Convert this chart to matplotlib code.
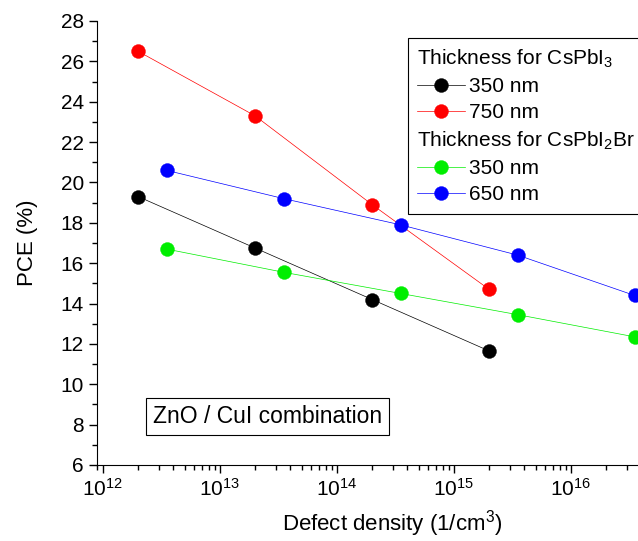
import matplotlib
matplotlib.use('Agg')
import matplotlib.pyplot as plt
from matplotlib.lines import Line2D
from matplotlib.ticker import LogLocator, MultipleLocator, FixedLocator

plt.rcParams['font.family'] = ['Liberation Sans', 'DejaVu Sans']
plt.rcParams['mathtext.fontset'] = 'custom'
plt.rcParams['mathtext.rm'] = 'Liberation Sans'
plt.rcParams['mathtext.it'] = 'Liberation Sans'

# CsPbI3 series
x_pbi3 = [2e12, 2e13, 2e14, 2e15]
pce_pbi3_350 = [19.3, 16.75, 14.2, 11.65]
pce_pbi3_750 = [26.5, 23.3, 18.9, 14.7]

# CsPbI2Br series
x_pbi2br = [3.5e12, 3.5e13, 3.5e14, 3.5e15, 3.5e16]
pce_pbi2br_350 = [16.7, 15.55, 14.5, 13.45, 12.35]
pce_pbi2br_650 = [20.6, 19.2, 17.9, 16.4, 14.4]

x_major = [1e12, 1e13, 1e14, 1e15, 1e16]

fig = plt.figure(figsize=(6.38, 5.41), dpi=100)
# axes runs past the right edge of the figure, like the cropped original
ax = fig.add_axes([97/638, 76/541, 591/638, 444/541])

ms = 10
lw = 0.5
ax.plot(x_pbi3, pce_pbi3_350, '-o', color='black', lw=lw, ms=ms, mew=0.3, clip_on=False)
ax.plot(x_pbi3, pce_pbi3_750, '-o', color='#ff0000', lw=lw, ms=ms, mew=0.3, clip_on=False)
ax.plot(x_pbi2br, pce_pbi2br_350, '-o', color='#00ee00', lw=lw, ms=ms, mew=0.3, clip_on=False)
ax.plot(x_pbi2br, pce_pbi2br_650, '-o', color='#0000ff', lw=lw, ms=ms, mew=0.3, clip_on=False)

ax.set_xscale('log')
ax.set_xlim(10**11.95, 10**17.0)
ax.set_ylim(6, 28)
ax.yaxis.set_major_locator(MultipleLocator(2))
ax.yaxis.set_minor_locator(MultipleLocator(1))
ax.xaxis.set_major_locator(FixedLocator(x_major))
ax.xaxis.set_minor_locator(LogLocator(base=10, subs=range(2, 10), numticks=12))

ax.spines['top'].set_visible(False)
ax.spines['right'].set_visible(False)
ax.tick_params(which='major', direction='out', length=6, width=1, labelsize=15)
ax.tick_params(which='minor', direction='out', length=3.5, width=1)

ax.set_xlabel('Defect density (1/cm$^3$)', fontsize=16, labelpad=6)
ax.set_ylabel('PCE (%)', fontsize=16, labelpad=16)

ax.text(10**13.41, 8.4, 'ZnO / CuI combination', fontsize=16.5, ha='center', va='center',
        bbox=dict(boxstyle='square,pad=0.3', facecolor='white', edgecolor='black', linewidth=0.8))

blank = Line2D([], [], linestyle='none')
h1 = 'Thickness for CsPbI$_3$'
h2 = 'Thickness for CsPbI$_2$Br'
handles = [blank,
           Line2D([], [], color='black', marker='o', lw=lw, ms=ms, mew=0.3),
           Line2D([], [], color='#ff0000', marker='o', lw=lw, ms=ms, mew=0.3),
           blank,
           Line2D([], [], color='#00ee00', marker='o', lw=lw, ms=ms, mew=0.3),
           Line2D([], [], color='#0000ff', marker='o', lw=lw, ms=ms, mew=0.3)]
labels = [h1, '350 nm', '750 nm', h2, '350 nm', '650 nm']
leg = ax.legend(handles, labels, loc='upper left', bbox_to_anchor=(0.526, 0.962),
                borderaxespad=0, fontsize=15, frameon=True, fancybox=False,
                edgecolor='black', framealpha=1, handlelength=2.3, handletextpad=0.2,
                labelspacing=0.35, borderpad=0.45)
leg.get_frame().set_linewidth(0.8)
# pull header rows to the left edge (no handle space)
for col in leg._legend_handle_box.get_children():
    for row in col.get_children():
        hb, tb = row.get_children()
        if tb.get_text() in (h1, h2):
            hb.width = 0
            row.sep = 0

fig.savefig('out.png', dpi=100)
plt.close(fig)
